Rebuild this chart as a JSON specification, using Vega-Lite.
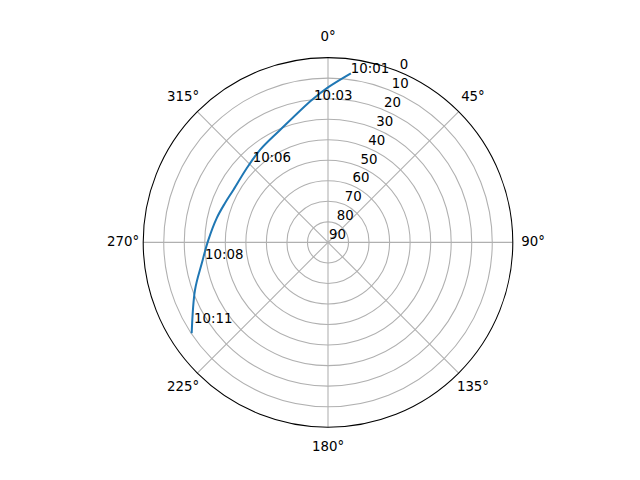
{
  "$schema": "https://vega.github.io/schema/vega-lite/v6.json",
  "width": 369.6,
  "height": 369.6,
  "autosize": "none",
  "padding": {"left": 143.2, "top": 57.6, "right": 127.2, "bottom": 52.8},
  "background": "white",
  "config": {
    "view": {"stroke": null},
    "text": {"font": "DejaVu Sans", "fontSize": 13.33, "color": "black"}
  },
  "datasets": {
    "rings": [
      {"elev": 10}, {"elev": 20}, {"elev": 30}, {"elev": 40},
      {"elev": 50}, {"elev": 60}, {"elev": 70}, {"elev": 80}
    ],
    "rlabels": [
      {"elev": 0, "label": "0"}, {"elev": 10, "label": "10"}, {"elev": 20, "label": "20"},
      {"elev": 30, "label": "30"}, {"elev": 40, "label": "40"}, {"elev": 50, "label": "50"},
      {"elev": 60, "label": "60"}, {"elev": 70, "label": "70"}, {"elev": 80, "label": "80"},
      {"elev": 90, "label": "90"}
    ],
    "spokes": [
      {"az": 0}, {"az": 45}, {"az": 90}, {"az": 135},
      {"az": 180}, {"az": 225}, {"az": 270}, {"az": 315}
    ],
    "track": [
      {"i": 1, "az": 7.7, "el": 6.9},
      {"i": 2, "az": 0, "el": 14.5},
      {"i": 3, "az": 353.5, "el": 20.2},
      {"i": 4, "az": 336.9, "el": 30.5},
      {"i": 5, "az": 323.7, "el": 34.1},
      {"i": 6, "az": 312.4, "el": 36.4},
      {"i": 7, "az": 299.0, "el": 37.3},
      {"i": 8, "az": 290.8, "el": 36.3},
      {"i": 9, "az": 282.2, "el": 34.5},
      {"i": 10, "az": 271.1, "el": 31.7},
      {"i": 11, "az": 260.6, "el": 27.7},
      {"i": 12, "az": 250.3, "el": 21.2},
      {"i": 13, "az": 236.3, "el": 10.2}
    ],
    "times": [
      {"t": "10:01", "az": 7.7, "el": 6.9},
      {"t": "10:03", "az": 354.4, "el": 20.3},
      {"t": "10:06", "az": 317.0, "el": 36.2},
      {"t": "10:08", "az": 262.3, "el": 29.6},
      {"t": "10:11", "az": 238.9, "el": 13.8}
    ]
  },
  "layer": [
    {
      "data": {"name": "rings"},
      "mark": {"type": "arc", "filled": false, "theta": 0, "theta2": 6.2832, "stroke": "#b0b0b0", "strokeWidth": 1.07},
      "encoding": {
        "radius": {"field": "elev", "type": "quantitative", "stack": null, "scale": {"type": "linear", "domain": [90, 0], "range": [0, 184.8]}}
      }
    },
    {
      "data": {"name": "spokes"},
      "transform": [
        {"calculate": "90 * sin(datum.az * PI / 180)", "as": "x"},
        {"calculate": "90 * cos(datum.az * PI / 180)", "as": "y"},
        {"calculate": "0", "as": "x0"},
        {"calculate": "0", "as": "y0"}
      ],
      "mark": {"type": "rule", "stroke": "#b0b0b0", "strokeWidth": 1.07},
      "encoding": {
        "x": {"field": "x", "type": "quantitative", "scale": {"domain": [-90, 90], "nice": false, "zero": false}, "axis": null},
        "y": {"field": "y", "type": "quantitative", "scale": {"domain": [-90, 90], "nice": false, "zero": false}, "axis": null},
        "x2": {"field": "x0"},
        "y2": {"field": "y0"}
      }
    },
    {
      "data": {"values": [{"elev": 0}]},
      "mark": {"type": "arc", "filled": false, "theta": 0, "theta2": 6.2832, "stroke": "black", "strokeWidth": 1.07},
      "encoding": {
        "radius": {"field": "elev", "type": "quantitative", "stack": null}
      }
    },
    {
      "data": {"name": "track"},
      "transform": [
        {"calculate": "(90 - datum.el) * sin(datum.az * PI / 180)", "as": "x"},
        {"calculate": "(90 - datum.el) * cos(datum.az * PI / 180)", "as": "y"}
      ],
      "mark": {"type": "line", "color": "#1f77b4", "strokeWidth": 2, "interpolate": "catmull-rom"},
      "encoding": {
        "x": {"field": "x", "type": "quantitative"},
        "y": {"field": "y", "type": "quantitative"},
        "order": {"field": "i", "type": "quantitative"}
      }
    },
    {
      "data": {"name": "rlabels"},
      "mark": {"type": "text", "theta": 0.3927, "align": "left", "baseline": "alphabetic", "dx": 1, "dy": -3},
      "encoding": {
        "radius": {"field": "elev", "type": "quantitative", "stack": null},
        "text": {"field": "label"}
      }
    },
    {
      "data": {"name": "spokes"},
      "transform": [{"calculate": "datum.az + '°'", "as": "label"}],
      "mark": {"type": "text", "radius": 205, "align": "center", "baseline": "middle"},
      "encoding": {
        "theta": {"field": "az", "type": "quantitative", "stack": null, "scale": {"domain": [0, 360], "range": [0, 6.283185307]}},
        "text": {"field": "label"}
      }
    },
    {
      "data": {"name": "times"},
      "mark": {"type": "text", "align": "left", "baseline": "alphabetic"},
      "encoding": {
        "theta": {"field": "az", "type": "quantitative", "stack": null},
        "radius": {"field": "el", "type": "quantitative", "stack": null},
        "text": {"field": "t"}
      }
    }
  ]
}
